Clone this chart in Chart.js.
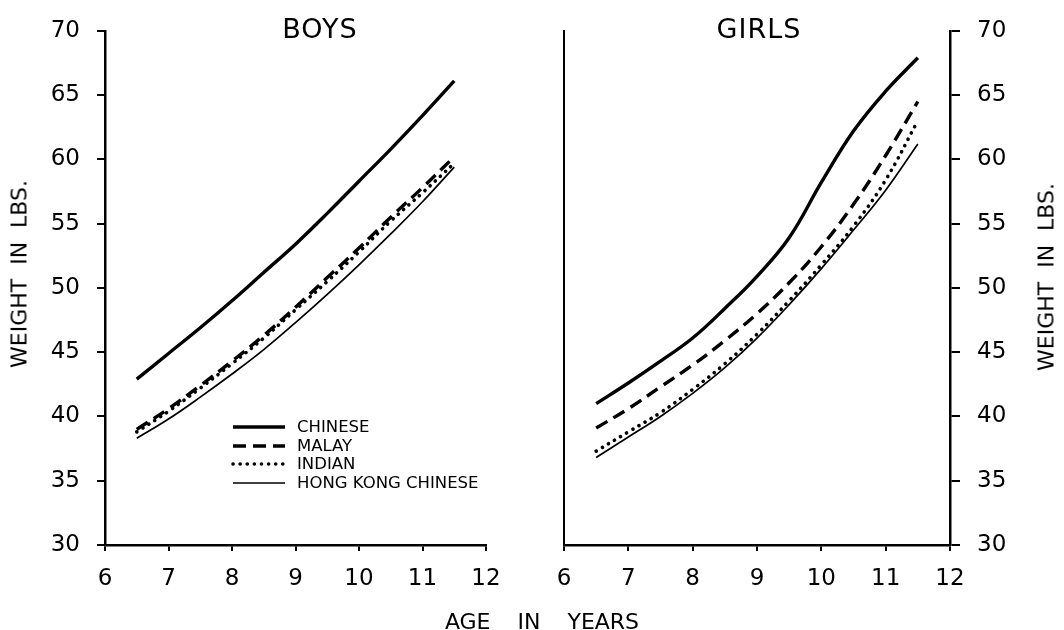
<!DOCTYPE html>
<html><head><meta charset="utf-8">
<script src="https://cdn.jsdelivr.net/npm/chart.js@4/dist/chart.umd.min.js"></script>
<style>
html,body{margin:0;padding:0;background:#fff;width:1064px;height:630px;overflow:hidden;}
body{position:relative;font-family:"DejaVu Sans",sans-serif;color:#000;}
canvas{position:absolute;top:0;}
#c1{left:0;}
#c2{left:530px;}
.t{position:absolute;white-space:nowrap;transform:translate(-50%,-50%);color:#000;}
</style></head><body>
<canvas id="c1" width="530" height="630"></canvas>
<canvas id="c2" width="534" height="630"></canvas>
<div class="t" style="left:320px;top:28px;font-size:27px;letter-spacing:1px;">BOYS</div>
<div class="t" style="left:759px;top:28px;font-size:27px;letter-spacing:1px;">GIRLS</div>
<div class="t" style="left:542px;top:621px;font-size:22px;word-spacing:20px;">AGE IN YEARS</div>
<div class="t" style="left:19px;top:274px;font-size:22px;word-spacing:7px;transform:translate(-50%,-50%) rotate(-90deg);">WEIGHT IN LBS.</div>
<div class="t" style="left:1046px;top:277px;font-size:22px;word-spacing:7px;transform:translate(-50%,-50%) rotate(-90deg);">WEIGHT IN LBS.</div>
<script>
// ---- data ----
const ages = [6.5, 7, 7.5, 8, 8.5, 9, 9.5, 10, 10.5, 11, 11.5];
const seriesNames = ['CHINESE', 'MALAY', 'INDIAN', 'HONG KONG CHINESE'];
const boysChinese   = [42.9, 44.9, 46.9, 49.0, 51.2, 53.4, 55.8, 58.3, 60.8, 63.4, 66.1];
const boysMalay     = [39.0, 40.6, 42.4, 44.3, 46.3, 48.5, 50.8, 53.1, 55.5, 57.8, 60.2];
const boysIndian    = [38.8, 40.4, 42.2, 44.1, 46.1, 48.3, 50.5, 52.8, 55.2, 57.4, 59.7];
const boysHongKong  = [38.3, 39.8, 41.5, 43.3, 45.2, 47.3, 49.5, 51.8, 54.2, 56.7, 59.4];
const girlsChinese  = [41.0, 42.6, 44.3, 46.1, 48.4, 50.9, 53.9, 58.2, 62.2, 65.3, 67.9];
const girlsMalay    = [39.1, 40.6, 42.3, 44.0, 45.9, 48.0, 50.4, 53.2, 56.5, 60.3, 64.5];
const girlsIndian   = [37.3, 38.8, 40.3, 42.1, 44.1, 46.4, 49.0, 51.8, 54.8, 58.4, 63.0];
const girlsHongKong = [36.8, 38.4, 40.0, 41.8, 43.8, 46.1, 48.7, 51.5, 54.5, 57.6, 61.2];
const xTicks = [6, 7, 8, 9, 10, 11, 12];
const yTicks = [30, 35, 40, 45, 50, 55, 60, 65, 70];

// ---- styles ----
const lineStyles = [
  {borderWidth: 3.4, borderDash: [], borderCapStyle: 'butt'},
  {borderWidth: 3.4, borderDash: [13, 7], borderCapStyle: 'butt'},
  {borderWidth: 3.6, borderDash: [0.1, 7], borderCapStyle: 'round'},
  {borderWidth: 1.7, borderDash: [], borderCapStyle: 'butt'}
];
const FONT = '"DejaVu Sans", sans-serif';

function makeDatasets(seriesList) {
  return seriesList.map((vals, i) => Object.assign({
    label: seriesNames[i],
    data: ages.map((a, j) => ({x: a, y: vals[j]})),
    borderColor: '#000',
    backgroundColor: '#000',
    pointRadius: 0,
    fill: false,
    tension: 0.4
  }, lineStyles[i]));
}

function xScale() {
  return {
    type: 'linear', min: 6, max: 12,
    afterBuildTicks: s => { s.ticks = xTicks.map(v => ({value: v})); },
    ticks: {color: '#000', font: {family: FONT, size: 23}, padding: 14, maxRotation: 0, autoSkip: false},
    grid: {display: true, drawOnChartArea: false, drawTicks: true, tickLength: 6, color: '#000', lineWidth: 2},
    border: {display: true, color: '#000', width: 2.5},
    afterFit: s => { s.height = 85; }
  };
}
function yScale(pos, width, tickLen, pad) {
  return {
    type: 'linear', min: 30, max: 70, position: pos,
    afterBuildTicks: s => { s.ticks = yTicks.map(v => ({value: v})); },
    ticks: {color: '#000', font: {family: FONT, size: 23}, padding: pad, autoSkip: false},
    grid: {display: true, drawOnChartArea: false, drawTicks: true, tickLength: tickLen, color: '#000', lineWidth: 2},
    border: {display: true, color: '#000', width: 2.5},
    afterFit: s => { s.width = width; }
  };
}

const legendPlugin = {
  id: 'customLegend',
  afterDatasetsDraw(chart) {
    const ctx = chart.ctx;
    const rows = [427, 446, 464, 483];
    ctx.save();
    chart.data.datasets.forEach((ds, i) => {
      ctx.beginPath();
      ctx.strokeStyle = '#000';
      ctx.lineWidth = ds.borderWidth;
      ctx.lineCap = ds.borderCapStyle;
      ctx.setLineDash(ds.borderDash);
      ctx.moveTo(233, rows[i]);
      ctx.lineTo(285, rows[i]);
      ctx.stroke();
      ctx.setLineDash([]);
      ctx.fillStyle = '#000';
      ctx.font = '16.5px ' + FONT;
      ctx.textBaseline = 'middle';
      ctx.textAlign = 'left';
      ctx.fillText(ds.label, 297, rows[i] + 1);
    });
    ctx.restore();
  }
};

const common = {
  responsive: false, animation: false,
  plugins: {legend: {display: false}, tooltip: {enabled: false}, title: {display: false}}
};

new Chart(document.getElementById('c1'), {
  type: 'line',
  data: {datasets: makeDatasets([boysChinese, boysMalay, boysIndian, boysHongKong])},
  options: Object.assign({}, common, {
    layout: {padding: {left: 0, right: 44, top: 22, bottom: 0}},
    scales: {x: xScale(), y: yScale('left', 105, 8, 17)}
  }),
  plugins: [legendPlugin]
});

const y2 = yScale('right', 114, 10, 17);
new Chart(document.getElementById('c2'), {
  type: 'line',
  data: {datasets: makeDatasets([girlsChinese, girlsMalay, girlsIndian, girlsHongKong])},
  options: Object.assign({}, common, {
    layout: {padding: {left: 34, right: 0, top: 24, bottom: 0}},
    scales: {
      x: xScale(),
      y: y2,
      yl: {type: 'linear', min: 30, max: 70, position: 'left', display: true,
           ticks: {display: false}, grid: {display: false, drawTicks: false},
           border: {display: true, color: '#000', width: 2},
           afterFit: s => { s.width = 0; }}
    }
  })
});
</script>
</body></html>
